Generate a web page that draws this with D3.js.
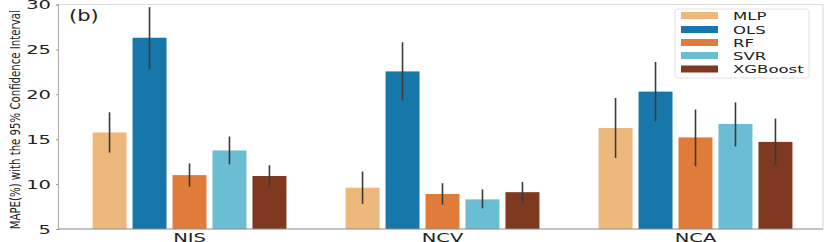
<!DOCTYPE html>
<html>
<head>
<meta charset="utf-8">
<title>MAPE by model</title>
<style>
  body { margin: 0; background: #fff; }
  text { font-family: 'DejaVu Sans', sans-serif; fill: #222; }
</style>
<script src="https://d3js.org/d3.v7.min.js"></script>
</head>
<body>
<div id="chart"></div>
<script>
// ---- data ----
const groups = ["NIS", "NCV", "NCA"];
const models = ["MLP", "OLS", "RF", "SVR", "XGBoost"];
const colors = ["#edb87b", "#1877aa", "#e17b39", "#6abdd3", "#7f3920"];
const yTicks = [5, 10, 15, 20, 25, 30];

// mean MAPE per group, one array per model (NIS, NCV, NCA)
const mlp     = [15.75, 9.6, 16.25];
const ols     = [26.3, 22.55, 20.3];
const rf      = [11.0, 8.9, 15.2];
const svr     = [13.75, 8.3, 16.7];
const xgboost = [10.9, 9.1, 14.7];
// 95% CI lower / upper
const lowCI  = [[13.5, 7.8, 12.9], [22.8, 19.3, 17.0], [9.7, 7.7, 12.0], [12.2, 7.3, 14.2], [9.7, 7.9, 12.1]];
const highCI = [[18.0, 11.4, 19.6], [29.7, 25.8, 23.6], [12.3, 10.1, 18.3], [15.3, 9.4, 19.1], [12.1, 10.25, 17.3]];

const series = [mlp, ols, rf, svr, xgboost];

const width = 830, height = 242;
const plot = { left: 58, right: 823, top: 4.5, bottom: 229 };
const stretchK = 1.5;

const svg = d3.select("#chart").append("svg")
  .attr("width", width).attr("height", height);

// the source figure is stretched sideways; mimic it on text
function stretch(sel, k) {
  sel.each(function () {
    const l = this.getComputedTextLength();
    this.setAttribute("textLength", l * k);
    this.setAttribute("lengthAdjust", "spacingAndGlyphs");
  });
}

const x = d3.scaleBand().domain(groups).range([63, 822]).padding(0);
const xm = d3.scaleBand().domain(models)
  .range([-0.395 * x.bandwidth(), 0.395 * x.bandwidth()]);
const barW = xm.bandwidth() - 6;
const y = d3.scaleLinear().domain([5, 30]).range([plot.bottom, plot.top]);

// frame
svg.append("line").attr("x1", plot.left).attr("x2", plot.right)
  .attr("y1", plot.top).attr("y2", plot.top).attr("stroke", "#dcdcdc").attr("stroke-width", 1.2);
svg.append("line").attr("x1", plot.right).attr("x2", plot.right)
  .attr("y1", plot.top).attr("y2", plot.bottom).attr("stroke", "#dcdcdc").attr("stroke-width", 1.2);

// bars
const rows = [];
groups.forEach((g, gi) => {
  models.forEach((m, mi) => {
    rows.push({ g, m, mi, v: series[mi][gi], lo: lowCI[mi][gi], hi: highCI[mi][gi] });
  });
});

svg.append("g").selectAll("rect")
  .data(rows).enter().append("rect")
  .attr("x", d => x(d.g) + x.bandwidth() / 2 + xm(d.m) + 3)
  .attr("y", d => y(d.v))
  .attr("width", barW)
  .attr("height", d => y(5) - y(d.v))
  .attr("fill", d => colors[d.mi]);

// error bars
svg.append("g").selectAll("line")
  .data(rows).enter().append("line")
  .attr("x1", d => x(d.g) + x.bandwidth() / 2 + xm(d.m) + xm.bandwidth() / 2)
  .attr("x2", d => x(d.g) + x.bandwidth() / 2 + xm(d.m) + xm.bandwidth() / 2)
  .attr("y1", d => y(d.lo))
  .attr("y2", d => y(d.hi))
  .attr("stroke", "#3a3a3a")
  .attr("stroke-width", 1.6);

// axes
const yAxis = svg.append("g")
  .attr("transform", `translate(${plot.left},0)`)
  .call(d3.axisLeft(y).tickValues(yTicks).tickSize(2).tickPadding(5));
yAxis.select(".domain").attr("stroke", "#b0b0b0").attr("stroke-width", 1.2);
yAxis.selectAll(".tick line").attr("stroke", "#999");
yAxis.selectAll("text").attr("font-size", 13).attr("font-family", "DejaVu Sans").attr("fill", "#222")
  .call(stretch, stretchK);

const xAxis = svg.append("g")
  .attr("transform", `translate(0,${plot.bottom})`)
  .call(d3.axisBottom(x).tickSize(0).tickPadding(4));
xAxis.select(".domain").attr("stroke", "#8a8a8a").attr("stroke-width", 1.2)
  .attr("d", `M${plot.left},0H${plot.right}`);
xAxis.selectAll("text").attr("font-size", 13).attr("font-family", "DejaVu Sans").attr("fill", "#222")
  .call(stretch, stretchK);

// y label
svg.append("text")
  .attr("transform", `translate(20,${(plot.top + plot.bottom) / 2 + 3}) rotate(-90)`)
  .attr("text-anchor", "middle")
  .attr("font-size", 14)
  .attr("font-family", "Liberation Sans")
  .attr("textLength", 219)
  .attr("lengthAdjust", "spacingAndGlyphs")
  .text("MAPE(%) with the 95% Confidence Interval");

// panel tag
svg.append("text")
  .attr("x", 69).attr("y", 21)
  .attr("font-size", 15)
  .text("(b)")
  .call(stretch, 1.4);

// legend
const leg = svg.append("g");
leg.append("rect")
  .attr("x", 675).attr("y", 9).attr("width", 134).attr("height", 69)
  .attr("rx", 3).attr("fill", "#fff").attr("stroke", "#e2e2e2");
const rowY = [15.5, 29.5, 42.5, 55.5, 69];
models.forEach((m, i) => {
  leg.append("rect")
    .attr("x", 681).attr("y", rowY[i] - 3.5).attr("width", 37).attr("height", 7)
    .attr("fill", colors[i]);
  leg.append("text")
    .attr("x", 733).attr("y", rowY[i] + 4)
    .attr("font-size", 11)
    .text(m)
    .call(stretch, 1.5);
});
</script>
</body>
</html>
